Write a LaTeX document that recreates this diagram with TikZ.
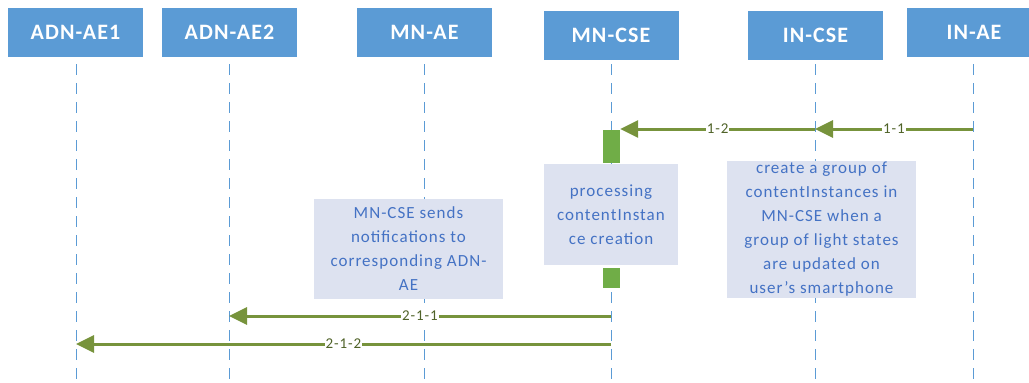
\documentclass[tikz,border=0pt]{standalone}
\usepackage{fontspec}
\setmainfont{Carlito}
\newfontfamily\headfont[LetterSpace=5]{Carlito}
\newfontfamily\notefont[LetterSpace=6]{Carlito}
\newfontfamily\labelfont[LetterSpace=6]{Carlito}
\usetikzlibrary{arrows.meta,positioning}

\definecolor{headblue}{HTML}{5B9BD5}
\definecolor{notefill}{HTML}{DDE2F0}
\definecolor{notetext}{HTML}{4472C4}
\definecolor{msgolive}{HTML}{77933C}
\definecolor{msgtext}{HTML}{4F6228}
\definecolor{actgreen}{HTML}{70AD47}

\tikzset{
    head/.style={fill=headblue, text=white, minimum width=135pt, minimum height=49pt,
        inner sep=0pt, font=\headfont\fontsize{22}{24}\selectfont\bfseries},
    lifeline/.style={headblue, dashed, dash pattern=on 11pt off 8pt, line width=1pt},
    note/.style={fill=notefill, text=notetext, align=center, inner sep=0pt,
        font=\notefont\fontsize{17}{24}\selectfont},
    msg/.style={msgolive, line width=3pt, -{Triangle[length=18pt,width=17pt]}},
    msglabel/.style={fill=white, text=msgtext, inner sep=1pt, font=\labelfont\fontsize{15}{16}\selectfont},
    actbar/.style={fill=actgreen, minimum width=17pt, inner sep=0pt}
}

\begin{document}
\begin{tikzpicture}[x=1pt, y=-1pt]
        \useasboundingbox (0,0) rectangle (1029,383);

        % participants
        \node[head] (adn1) at (75.5,32.5) {ADN-AE1};
        \node[head] (adn2) at (229.5,32.5) {ADN-AE2};
        \node[head] (mnae) at (424.5,32.5) {MN-AE};
        \node[head] (mncse) at (611,35.5) {MN-CSE};
        \node[head] (incse) at (815.5,35.5) {IN-CSE};
        \node[head] (inae) at (974,32.5) {IN-AE};

        % lifelines
        \foreach \p/\x in {adn1/76, adn2/229, mnae/424, mncse/611, incse/815, inae/973} {
            \coordinate (\p-end) at (\x,383);
            \draw[lifeline] (\x,64) -- (\p-end);
        }

        % notes
        \node[note, minimum width=134pt, minimum height=101pt] (proc) at (611,214.5)
            {processing\\contentInstan\\ce creation};
        \node[note, minimum width=189pt, minimum height=137pt] (create) at (821.5,229.5)
            {create a group of\\contentInstances in\\MN-CSE when a\\group of light states\\are updated on\\user’s smartphone};
        \node[note, minimum width=189pt, minimum height=100pt] (notify) at (408.5,249)
            {MN-CSE sends\\notifications to\\corresponding ADN-\\AE};

        % activation bars
        \node[actbar, minimum height=33pt] (act1) at (611.5,146.5) {};
        \node[actbar, minimum height=20pt] (act2) at (611.5,278) {};

        % messages
        \coordinate (inae-m1) at (973,129);
        \coordinate (incse-m1) at (815,129);
        \coordinate (mncse-m2) at (611,316);
        \coordinate (adn2-m2) at (229,316);
        \coordinate (mncse-m3) at (611,344);
        \coordinate (adn1-m3) at (76,344);

        \draw[msg] (inae-m1) -- (incse-m1) node[msglabel, midway] {1-1};
        \draw[msg] (incse-m1) -- (act1.north east |- incse-m1) node[msglabel, midway] {1-2};
        \draw[msg] (mncse-m2) -- (adn2-m2) node[msglabel, midway] {2-1-1};
        \draw[msg] (mncse-m3) -- (adn1-m3) node[msglabel, midway] {2-1-2};

        \end{tikzpicture}
\end{document}
